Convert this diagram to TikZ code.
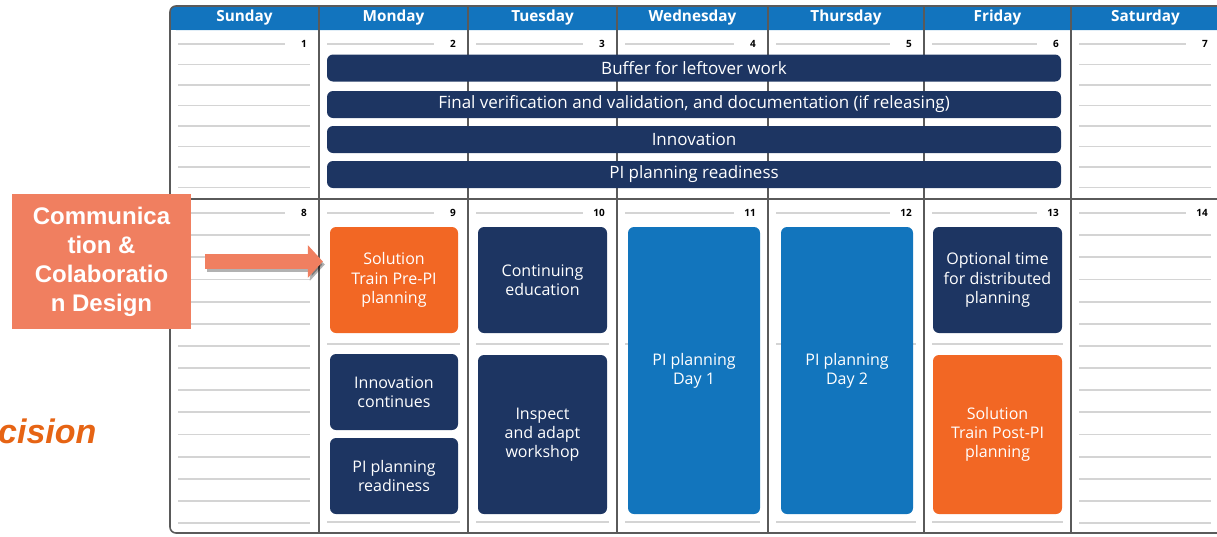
\documentclass[tikz,border=0pt]{standalone}
\usepackage{fontspec}
\setmainfont{Open Sans}
\newfontfamily\arialfont{Liberation Sans}
\usetikzlibrary{arrows.meta}
\definecolor{headblue}{RGB}{18,116,190}
\definecolor{navy}{RGB}{29,53,98}
\definecolor{solorange}{RGB}{242,103,36}
\definecolor{piblue}{RGB}{18,117,189}
\definecolor{salmon}{RGB}{240,127,96}
\definecolor{decideorange}{RGB}{230,100,20}
\definecolor{framegray}{RGB}{90,90,90}
\definecolor{rulegray}{RGB}{212,212,212}

\tikzset{
  frame/.style={framegray, line width=1.6pt},
  rule/.style={rulegray, line width=1.8pt},
  dayhead/.style={text=white, font=\fontsize{15.3}{18}\selectfont\bfseries},
  daynum/.style={anchor=east, font=\fontsize{10}{12}\selectfont\bfseries, inner sep=0pt},
  bar/.style={fill=navy, text=white, rounded corners=6pt, minimum width=734pt,
    minimum height=27pt, inner sep=0pt, font=\fontsize{17}{19}\selectfont},
  evt/.style={text=white, rounded corners=6pt, inner sep=0pt, align=center,
    font=\fontsize{16}{19.2}\selectfont},
  callout/.style={fill=salmon, text=white, minimum width=179pt, minimum height=135pt,
    inner sep=0pt, align=center, font=\arialfont\fontsize{24}{29}\selectfont\bfseries},
  callarrow/.style={salmon, line width=15pt, -{Triangle[width=32pt,length=15pt]},
    shorten <=14pt, shorten >=7pt}
}

\begin{document}
\begin{tikzpicture}[x=1pt,y=-1pt]
  \useasboundingbox (0,0) rectangle (1217,536);
  \clip (0,0) rectangle (1217,536);

  % Header strip
  \fill[headblue, rounded corners=6pt] (170,6) rectangle (1230,30);
  \fill[headblue] (170,18) rectangle (1230,30);
  \foreach \l/\r/\d in {170/319/Sunday, 319/468/Monday, 468/617/Tuesday,
      617/768/Wednesday, 768/924/Thursday, 924/1071/Friday, 1071/1220/Saturday}
    \node[dayhead] (h\d) at ({(\l+\r)/2},17.5) {\d};

  % Day numbers and their short rules
  \foreach \l/\r/\a/\b in {170/319/1/8, 319/468/2/9, 468/617/3/10, 617/768/4/11,
      768/924/5/12, 924/1071/6/13, 1071/1220/7/14}{
    \draw[rule] ({\l+8},44) -- ({\r-34},44);
    \node[daynum] at ({\r-12},44) {\a};
    \draw[rule] ({\l+8},213) -- ({\r-34},213);
    \node[daynum] at ({\r-12},213) {\b};
  }

  % Ruled weekend columns
  \foreach \l/\r in {170/319, 1071/1220}{
    \foreach \k in {1,...,7}
      \draw[rule] ({\l+8},{44+20.5*\k}) -- ({\r-9},{44+20.5*\k});
    \foreach \k in {1,...,14}
      \draw[rule] ({\l+8},{213+22.15*\k}) -- ({\r-9},{213+22.15*\k});
  }
  % Rules between and under the weekday boxes
  \foreach \l/\r in {319/468, 468/617, 617/768, 768/924, 924/1071}{
    \draw[rule] ({\l+8},344) -- ({\r-8},344);
    \draw[rule] ({\l+8},522) -- ({\r-8},522);
  }

  % Grid
  \foreach \x in {319,468,617,768,924,1071}
    \draw[frame] (\x,6) -- (\x,533);
  \draw[frame] (170,199) -- (1230,199);
  \draw[frame, rounded corners=6pt] (170,6) rectangle (1230,533);

  % First week bars
  \node[bar] (buffer) at (694,68) {Buffer for leftover work};
  \node[bar] (final) at (694,104.5) {Final verification and validation, and documentation (if releasing)};
  \node[bar] (innov) at (694,139.5) {Innovation};
  \node[bar] (ready) at (694,174.5) {PI planning readiness};

  % Second week events
  \node[evt, fill=solorange, minimum width=128pt, minimum height=106pt] (prepi) at (394,280) {Solution\\Train Pre-PI\\planning};
  \node[evt, fill=navy, minimum width=128pt, minimum height=76pt] (contin) at (394,392) {Innovation\\continues};
  \node[evt, fill=navy, minimum width=128pt, minimum height=76pt] (piready) at (394,476) {PI planning\\readiness};
  \node[evt, fill=navy, minimum width=129pt, minimum height=106pt] (educ) at (542.5,280) {Continuing\\education};
  \node[evt, fill=navy, minimum width=129pt, minimum height=159pt] (inspect) at (542.5,434.5) {Inspect\\and adapt\\workshop};
  \node[evt, fill=piblue, minimum width=132pt, minimum height=287pt] (dayone) at (694,370.5) {PI planning\\Day 1};
  \node[evt, fill=piblue, minimum width=132pt, minimum height=287pt] (daytwo) at (847,370.5) {PI planning\\Day 2};
  \node[evt, fill=navy, minimum width=129pt, minimum height=106pt] (optional) at (997.5,280) {Optional time\\for distributed\\planning};
  \node[evt, fill=solorange, minimum width=129pt, minimum height=159pt] (postpi) at (997.5,434.5) {Solution\\Train Post-PI\\planning};

  % Callout
  \node[callout] (comm) at (101.5,261.5) {Communica\\tion \&\\Colaboratio\\n Design};
  \draw[callarrow, black, opacity=0.3, transform canvas={shift={(2pt,-3pt)}}] (comm.east) -- (prepi.west |- comm.east);
  \draw[callarrow] (comm.east) -- (prepi.west |- comm.east);
  \node[anchor=base west, inner sep=0pt, text=decideorange,
    font=\arialfont\fontsize{34}{40}\selectfont\bfseries\itshape] (decide) at (-2,443) {cision};
\end{tikzpicture}
\end{document}
